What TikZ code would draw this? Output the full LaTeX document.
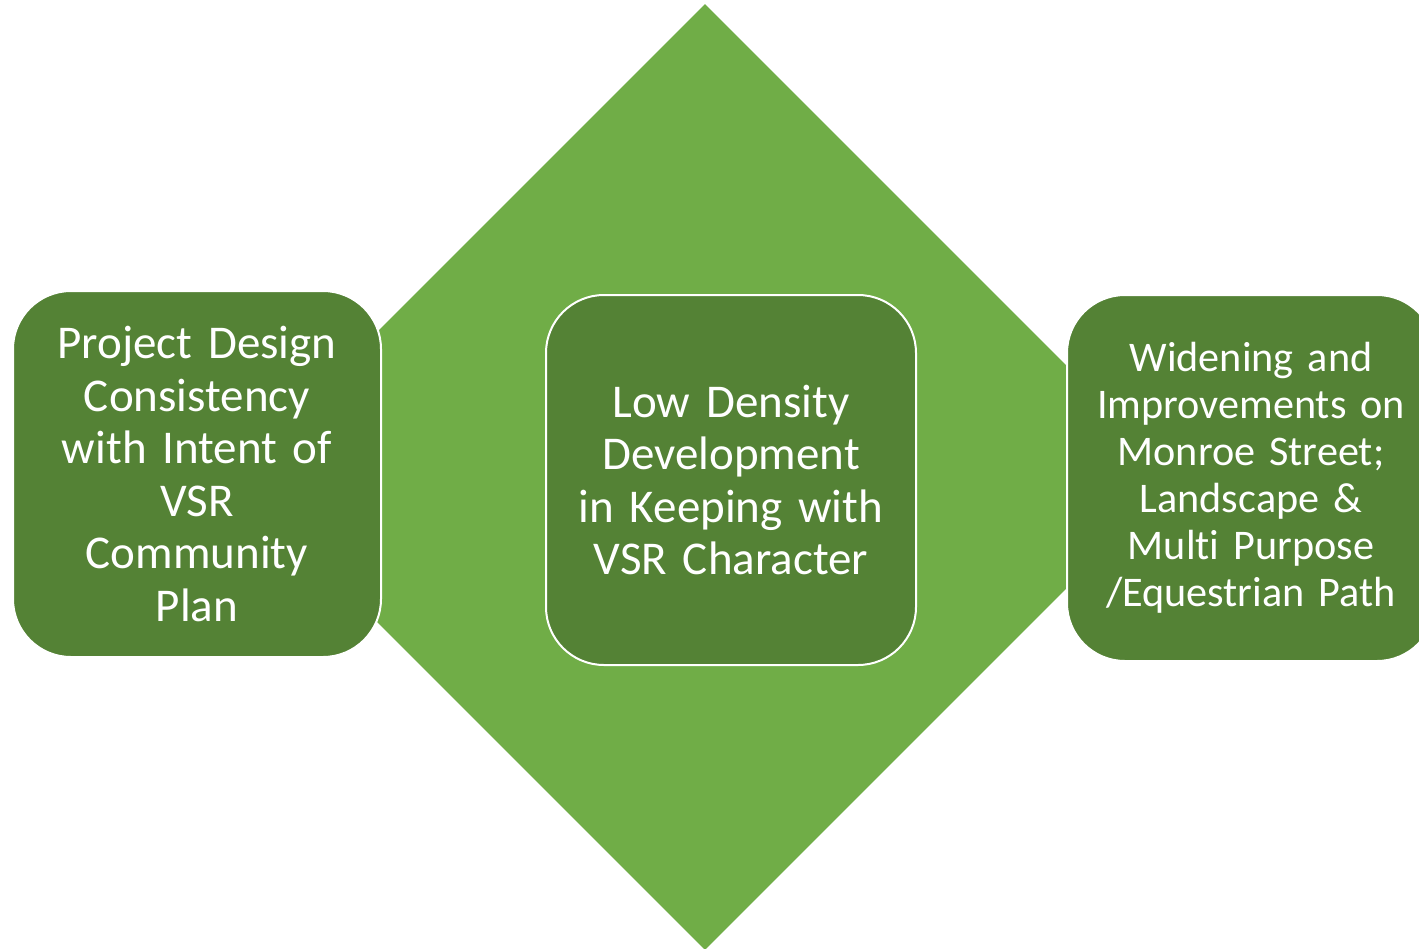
\documentclass[tikz,border=0pt]{standalone}
\usepackage{fontspec}
\setmainfont[Ligatures=NoCommon]{Carlito}
\usetikzlibrary{shapes.geometric}
\definecolor{leafgreen}{HTML}{70AD47}
\definecolor{darkgreen}{HTML}{548235}
\tikzset{
  goalbox/.style={rectangle, rounded corners=58pt, fill=darkgreen, draw=white,
    line width=2pt, text=white, align=center, inner sep=0pt,
    minimum width=368pt, minimum height=366pt},
  bigfont/.style={font=\fontsize{47}{52.5}\selectfont},
  smallfont/.style={font=\fontsize{42.2}{47}\selectfont}
}
\begin{document}
\begin{tikzpicture}[x=1pt,y=-1pt]
\useasboundingbox (0,0) rectangle (1419,948);
\clip (0,0) rectangle (1419,948);

% background diamond
\node[diamond, fill=leafgreen, inner sep=0pt, aspect=1,
  minimum width=946pt, minimum height=946pt] (core) at (705,477) {};

% the three boxes
\node[goalbox, bigfont, text width=340pt] (design) at (197,474)
  {Project Design\\Consistency\\with Intent of\\VSR\\Community\\Plan};
\node[goalbox, bigfont, text width=340pt, minimum width=370pt, minimum height=370pt] (density) at (731,480)
  {Low Density\\Development\\in Keeping with\\VSR Character};
\node[goalbox, smallfont, text width=340pt] (street) at (1251,478)
  {Widening and\\Improvements on\\Monroe Street;\\Landscape \&\\Multi Purpose\\/Equestrian Path};
\end{tikzpicture}
\end{document}
